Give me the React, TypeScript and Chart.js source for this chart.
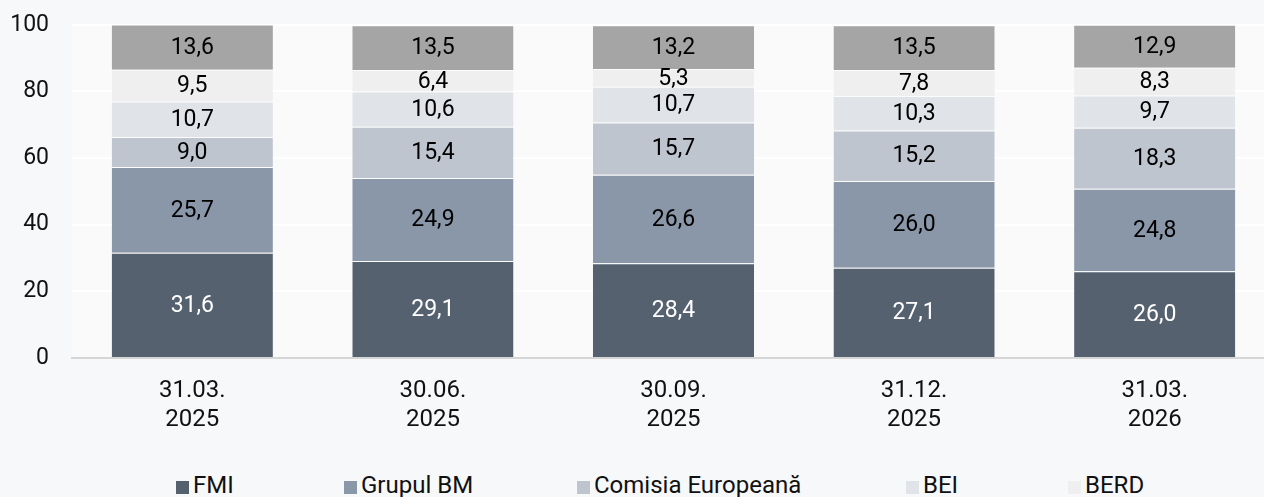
import React, { useEffect, useRef } from "react";
import { Chart, registerables } from "chart.js";

Chart.register(...registerables);

const categories: string[][] = [
  ["31.03.", "2025"],
  ["30.06.", "2025"],
  ["30.09.", "2025"],
  ["31.12.", "2025"],
  ["31.03.", "2026"],
];

const seriesNames = ["FMI", "Grupul BM", "Comisia Europeană", "BEI", "BERD", "Alții"];
const fmi = [31.6, 29.1, 28.4, 27.1, 26.0];
const grupulBM = [25.7, 24.9, 26.6, 26.0, 24.8];
const comisia = [9.0, 15.4, 15.7, 15.2, 18.3];
const bei = [10.7, 10.6, 10.7, 10.3, 9.7];
const berd = [9.5, 6.4, 5.3, 7.8, 8.3];
const altii = [13.6, 13.5, 13.2, 13.5, 12.9];

const colors = ["#56616f", "#8a97a9", "#bfc5cf", "#e0e3e8", "#efefef", "#a5a5a5"];
const labelColors = ["#ffffff", "#000000", "#000000", "#000000", "#000000", "#000000"];
const yTicks = [0, 20, 40, 60, 80, 100];

const legendLeft = [176, 344, 577, 906, 1068];

const FONT = "Roboto";

const bgPlugin = {
  id: "plotBg",
  beforeDraw(chart: any) {
    const { ctx, chartArea } = chart;
    ctx.save();
    ctx.fillStyle = "#fafafa";
    ctx.fillRect(chartArea.left, chartArea.top, chartArea.right - chartArea.left, chartArea.bottom - chartArea.top);
    ctx.restore();
  },
};

const labelPlugin = {
  id: "segLabels",
  afterDatasetsDraw(chart: any) {
    const { ctx } = chart;
    ctx.save();
    ctx.font = `23px ${FONT}`;
    ctx.textAlign = "center";
    ctx.textBaseline = "middle";
    chart.data.datasets.forEach((ds: any, di: number) => {
      const meta = chart.getDatasetMeta(di);
      meta.data.forEach((el: any, i: number) => {
        const v = ds.data[i];
        const y = (el.y + el.base) / 2;
        ctx.fillStyle = labelColors[di];
        ctx.fillText(v.toFixed(1).replace(".", ","), el.x, y + 1);
      });
    });
    ctx.restore();
  },
};

export default function App() {
  const ref = useRef<HTMLCanvasElement>(null);
  useEffect(() => {
    if (!ref.current) return;
    const series = [fmi, grupulBM, comisia, bei, berd, altii];
    const chart = new Chart(ref.current, {
      type: "bar",
      data: {
        labels: categories,
        datasets: series.map((d, i) => ({
          label: seriesNames[i],
          data: d,
          backgroundColor: colors[i],
          borderColor: "rgba(255,255,255,0.35)",
          borderWidth: { top: 1, left: 0, right: 0, bottom: 0 },
          borderSkipped: false,
          categoryPercentage: 1,
          barPercentage: 0.67,
        })),
      },
      options: {
        animation: false,
        responsive: true,
        maintainAspectRatio: false,
        layout: { padding: { top: 13, right: 15, left: 0, bottom: 0 } },
        plugins: { legend: { display: false }, tooltip: { enabled: false } },
        scales: {
          x: {
            stacked: true,
            grid: { display: false, drawTicks: false },
            border: { display: true, color: "#d6d6d6", width: 2 },
            ticks: {
              color: "#111111",
              padding: 18,
              font: { family: FONT, size: 24, lineHeight: 1.22 },
            },
            afterFit(scale: any) {
              scale.height = 72;
            },
          },
          y: {
            stacked: true,
            min: 0,
            max: 100,
            afterBuildTicks(scale: any) {
              scale.ticks = yTicks.map((v) => ({ value: v }));
            },
            grid: { color: "#ffffff", lineWidth: 2, drawTicks: false },
            border: { display: false },
            ticks: {
              color: "#111111",
              padding: 23,
              font: { family: FONT, size: 23 },
            },
            afterFit(scale: any) {
              scale.width = 72;
            },
          },
        },
      },
      plugins: [bgPlugin, labelPlugin],
    });
    return () => chart.destroy();
  }, []);

  return (
    <div
      style={{
        position: "fixed",
        left: 0,
        top: 0,
        width: 1264,
        height: 497,
        overflow: "hidden",
        background: "#f7f8fa",
        fontFamily: FONT,
      }}
    >
      <div style={{ position: "absolute", left: 0, top: -12, width: 1290, height: 442 }}>
        <canvas ref={ref} />
      </div>
      {seriesNames.slice(0, 5).map((name, i) => (
        <div
          key={name}
          style={{
            position: "absolute",
            left: legendLeft[i],
            top: 472,
            height: 26,
            display: "flex",
            alignItems: "center",
            whiteSpace: "nowrap",
            fontSize: 24,
            lineHeight: "26px",
            color: "#111111",
          }}
        >
          <span
            style={{
              display: "inline-block",
              width: 13,
              height: 13,
              background: colors[i],
              marginRight: 4,
              marginTop: 4,
            }}
          />
          <span>{name}</span>
        </div>
      ))}
    </div>
  );
}
